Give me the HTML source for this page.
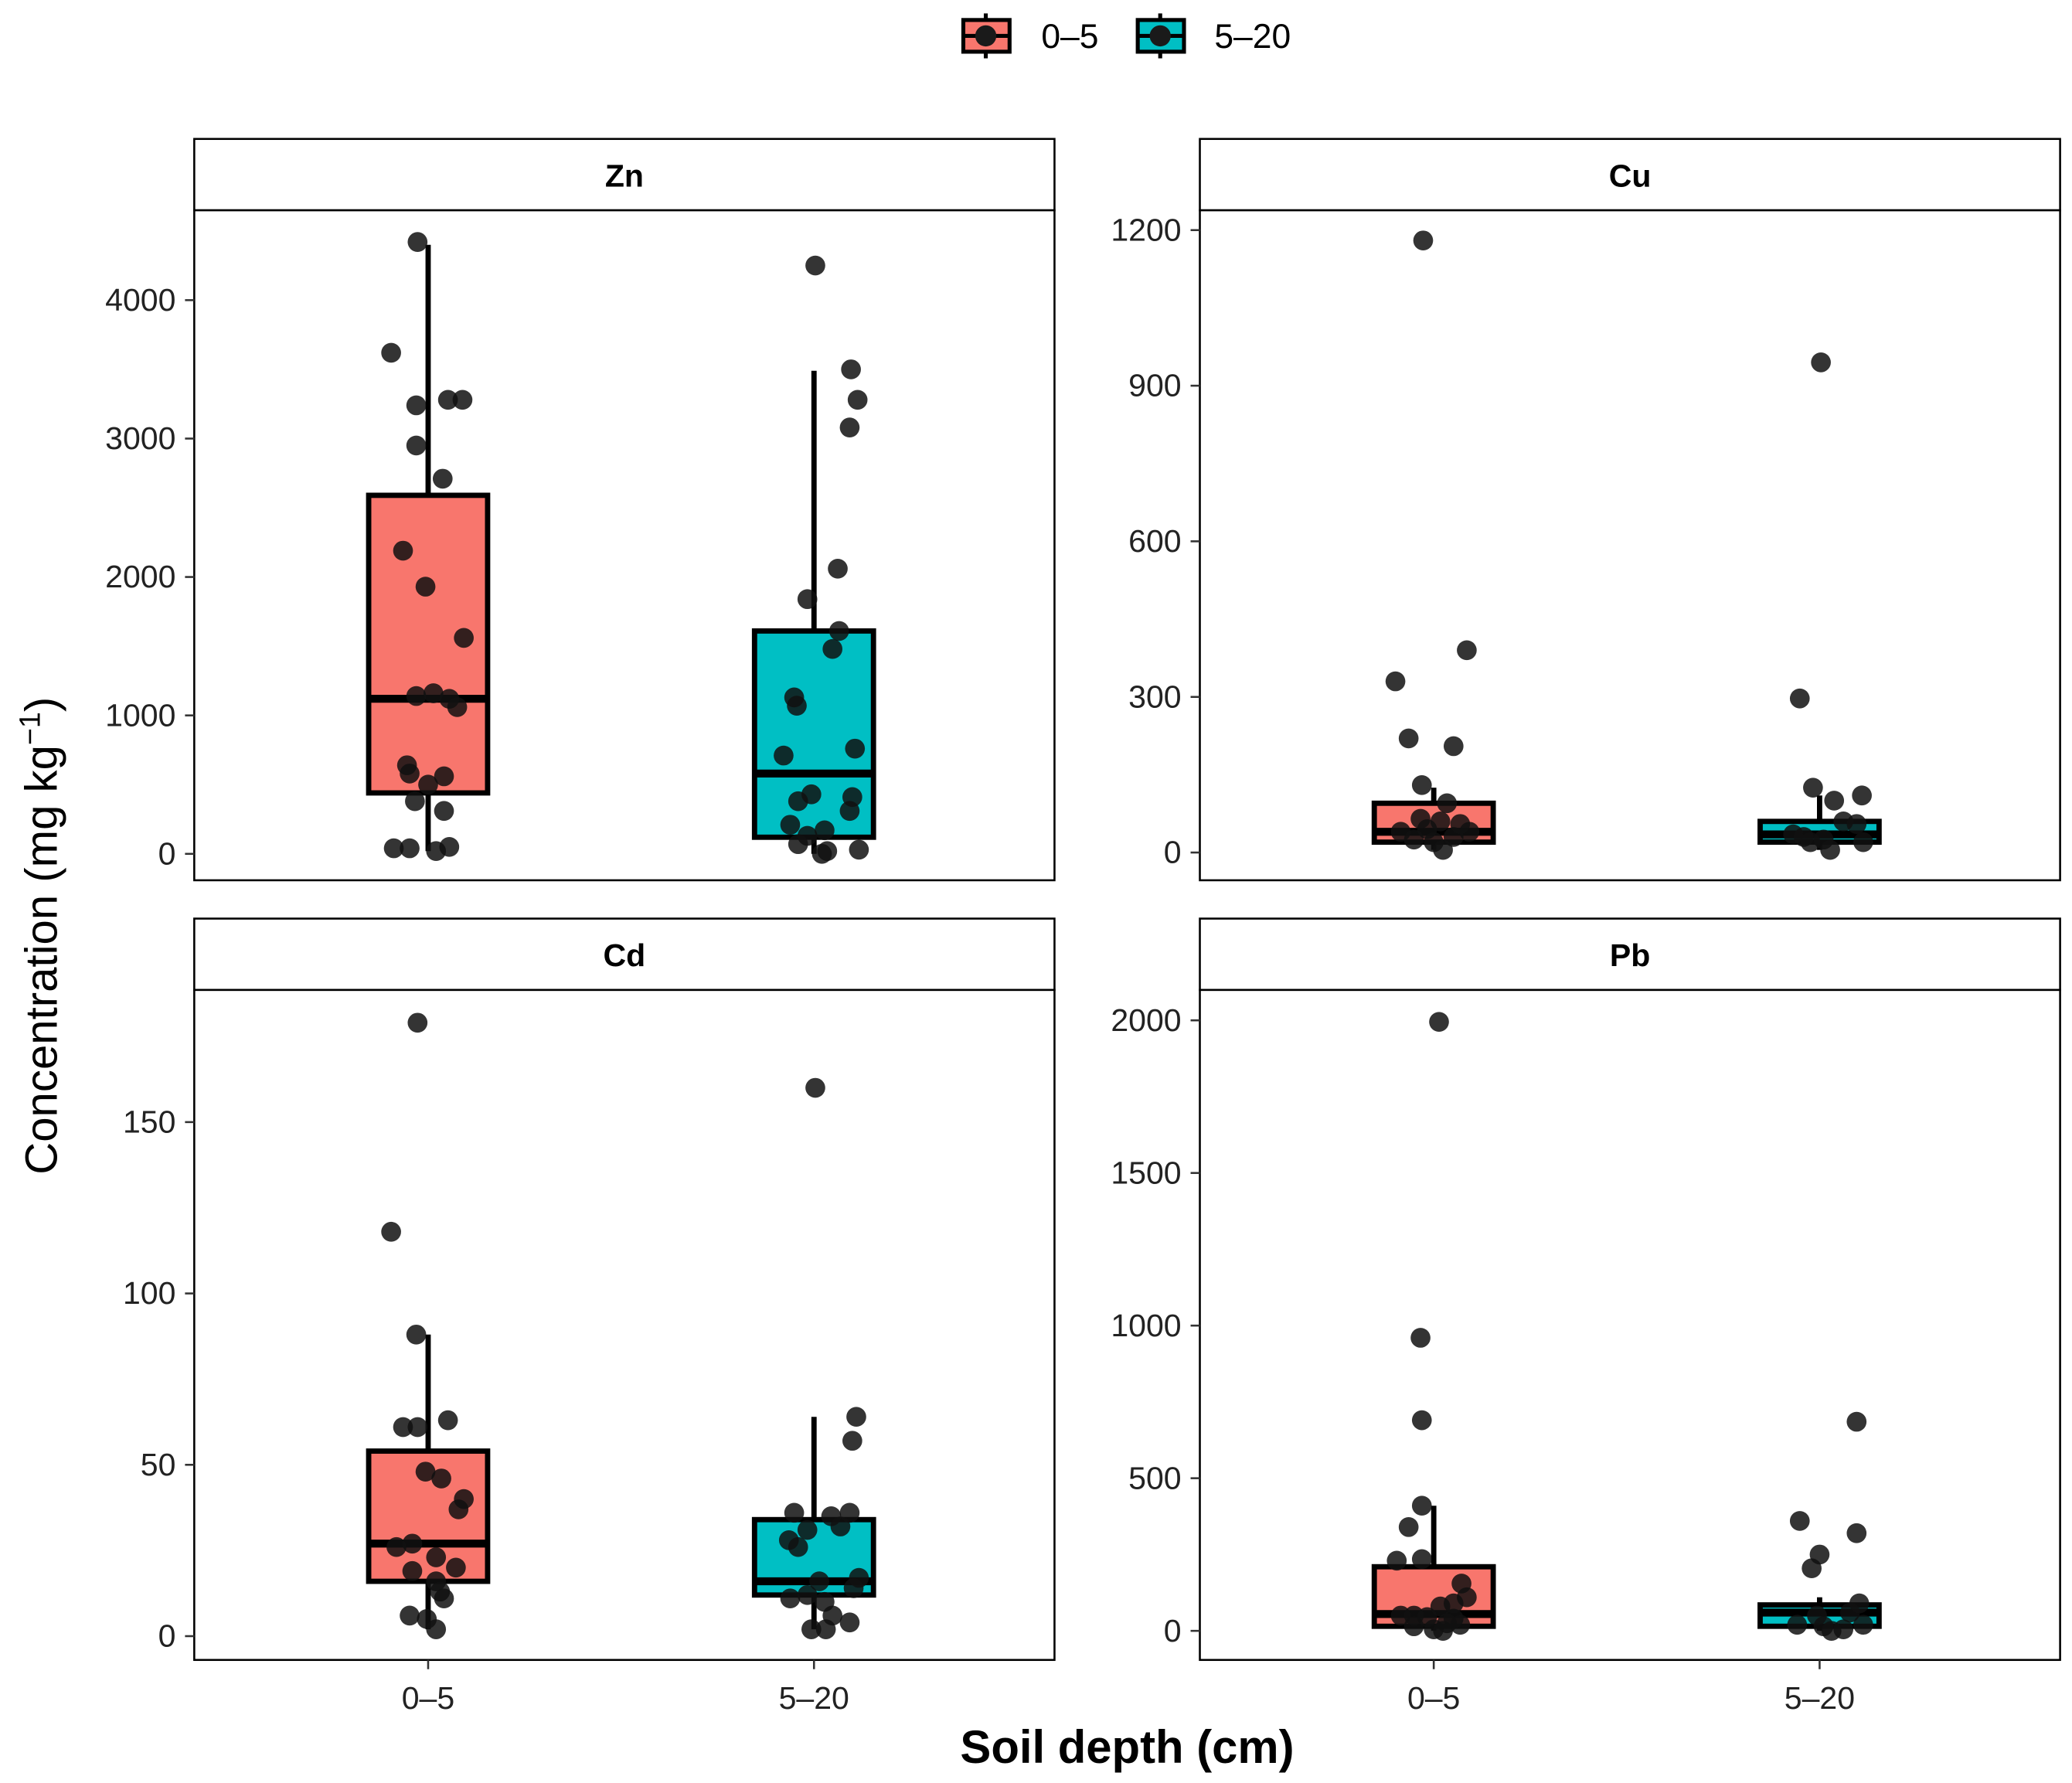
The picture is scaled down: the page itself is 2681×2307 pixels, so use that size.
<!DOCTYPE html>
<html><head><meta charset="utf-8"><style>
html,body{margin:0;padding:0;background:#fff}
svg{display:block;font-family:"Liberation Sans",Arial,sans-serif}
</style></head><body>
<svg id="chart" width="2681" height="2307" viewBox="0 0 1568 1349" xmlns="http://www.w3.org/2000/svg">
<g>
 <g>
  <line x1="746" y1="10" x2="746" y2="44" stroke="#000" stroke-width="3"/>
  <rect x="729" y="15" width="35" height="24" fill="#F8766D" stroke="#000" stroke-width="3"/>
  <line x1="729" y1="27" x2="764" y2="27" stroke="#000" stroke-width="3"/>
  <circle cx="746" cy="27" r="8" fill="#1a1a1a"/>
  <text x="788" y="36" font-size="26">0–5</text>
 </g>
 <g>
  <line x1="878" y1="10" x2="878" y2="44" stroke="#000" stroke-width="3"/>
  <rect x="861" y="15" width="35" height="24" fill="#00BFC4" stroke="#000" stroke-width="3"/>
  <line x1="861" y1="27" x2="896" y2="27" stroke="#000" stroke-width="3"/>
  <circle cx="878" cy="27" r="8" fill="#1a1a1a"/>
  <text x="919" y="36" font-size="26">5–20</text>
 </g>
</g>
<text transform="translate(43,708) rotate(-90)" text-anchor="middle" font-size="34">Concentration (mg kg<tspan dy="-13" font-size="22">−1</tspan><tspan dy="13">)</tspan></text>
<text x="853" y="1334" text-anchor="middle" font-size="35" font-weight="bold">Soil depth (cm)</text>
<g id="panels"></g>
</svg>
<script>
// ---- data ----
const categories = ["0–5","5–20"];
const metals = ["Zn","Cu","Cd","Pb"];
const yTicksZn = [0,1000,2000,3000,4000];
const yTicksCu = [0,300,600,900,1200];
const yTicksCd = [0,50,100,150];
const yTicksPb = [0,500,1000,1500,2000];
// box stats [lowerWhisker, q1, median, q3, upperWhisker] per category
const boxZn = [[20,440,1120,2590,4400],[0,120,580,1610,3490]];
const boxCu = [[5,20,40,95,125],[5,20,35,60,110]];
const boxCd = [[2,16,27,54,88],[2,12,16,34,64]];
const boxPb = [[0,15,55,210,410],[0,15,60,85,110]];
// points: values per category, with jitter offsets
const ptsZn0 = [4420,3620,3240,3280,3280,2950,2710,2190,1930,1560,1140,1160,1120,1060,640,580,500,560,380,310,40,40,20,50];
const jitZn0 = [-8,-28,-9,15,26,-9,11,-19,-2,27,-9,4,16,22,-16,-14,0,12,-10,12,-26,-14,6,16];
const ptsZn1 = [4250,3500,3280,3080,2060,1840,1610,1480,1130,1070,710,760,430,380,410,310,210,170,130,70,20,30,0];
const jitZn1 = [1,28,33,27,18,-5,19,14,-15,-13,-23,31,-2,-12,29,27,-18,8,-5,-12,10,34,6];
const ptsCu0 = [1180,330,390,220,205,130,95,40,65,60,55,25,20,30,5,40,45];
const jitCu0 = [-8,-29,25,-19,15,-9,10,-25,-10,5,20,-15,0,15,7,27,-5];
const ptsCu1 = [945,297,125,110,100,60,55,30,25,35,20,20,5];
const jitCu1 = [1,-15,-5,32,11,18,28,-12,3,-20,-7,33,8];
const ptsCd0 = [179,118,88,61,61,63,48,46,40,37,27,26,23,20,19,16,13,11,6,5,2];
const jitCd0 = [-8,-28,-9,-19,-8,15,-2,10,27,23,-12,-24,6,21,-12,6,9,12,-14,-1,6];
const ptsCd1 = [160,64,57,36,36,35,31,32,28,26,17,16,14,11,12,10,6,4,2,2];
const jitCd1 = [1,32,29,-15,27,13,-5,20,-19,-12,34,4,30,-18,-5,8,14,27,-2,9];
const ptsPb0 = [1995,960,690,410,340,230,235,155,90,110,80,50,50,45,40,25,15,5,0,20];
const jitPb0 = [4,-10,-9,-9,-19,-28,-9,21,15,25,5,-25,-15,-5,15,10,-15,0,7,20];
const ptsPb1 = [685,360,250,205,320,90,60,50,20,15,5,20,0];
const jitPb1 = [28,-15,0,-6,28,30,23,-2,-17,3,18,33,9];

const dataset = {
 Zn:{ticks:yTicksZn,box:boxZn,pts:[ptsZn0,ptsZn1],jit:[jitZn0,jitZn1],y0:646,yRef:4000,yRefPx:227},
 Cu:{ticks:yTicksCu,box:boxCu,pts:[ptsCu0,ptsCu1],jit:[jitCu0,jitCu1],y0:645,yRef:1200,yRefPx:174},
 Cd:{ticks:yTicksCd,box:boxCd,pts:[ptsCd0,ptsCd1],jit:[jitCd0,jitCd1],y0:1238,yRef:150,yRefPx:849},
 Pb:{ticks:yTicksPb,box:boxPb,pts:[ptsPb0,ptsPb1],jit:[jitPb0,jitPb1],y0:1234,yRef:2000,yRefPx:772}
};
const layout = {Zn:[147,105],Cu:[908,105],Cd:[147,695],Pb:[908,695]};
const NS="http://www.w3.org/2000/svg";
const root=document.getElementById("panels");
function mk(tag,attrs,parent){const e=document.createElementNS(NS,tag);for(const k in attrs)e.setAttribute(k,attrs[k]);parent.appendChild(e);return e;}
const colors=["#F8766D","#00BFC4"];
metals.forEach(m=>{
 const d=dataset[m];const [px,py]=layout[m];const W=651;
 const g=mk("g",{},root);
 
 
 const yS=v=>d.y0+(d.yRefPx-d.y0)*v/d.yRef;
 const xS=i=>px+177+i*292;
 const strip=mk("rect",{x:px,y:py,width:W,height:54,fill:"#fff",stroke:"#000","stroke-width":1.5},g);
 
 
 const st=mk("text",{x:px+W/2,y:py+36,"text-anchor":"middle","font-size":24,"font-weight":"bold"},g);
 st.textContent=m;
 
 
 const frame=mk("rect",{x:px,y:py+54,width:W,height:507,fill:"#fff",stroke:"#000","stroke-width":1.5},g);
 
 
 d.ticks.forEach(t=>{
  const y=yS(t);
  const tl=mk("line",{x1:px-7,x2:px,y1:y,y2:y,stroke:"#333","stroke-width":1.5},g);
  
  
  const tx=mk("text",{x:px-14,y:y+8,"text-anchor":"end","font-size":24,fill:"#222"},g);
  tx.textContent=t;
  
  
 });
 if(m==="Cd"||m==="Pb"){
  categories.forEach((c,i)=>{
   const x=xS(i);
   const tl=mk("line",{x1:x,x2:x,y1:py+561,y2:py+568,stroke:"#333","stroke-width":1.5},g);
   
   
   const tx=mk("text",{x:x,y:py+598,"text-anchor":"middle","font-size":24,fill:"#222"},g);
   tx.textContent=c;
   
   
  });
 }
 d.box.forEach((b,i)=>{
  const x=xS(i);
  const bg=mk("g",{},g);
  
  
  mk("line",{x1:x,x2:x,y1:yS(b[0]),y2:yS(b[1]),stroke:"#000","stroke-width":4},bg);
  mk("line",{x1:x,x2:x,y1:yS(b[3]),y2:yS(b[4]),stroke:"#000","stroke-width":4},bg);
  mk("rect",{x:x-45,y:yS(b[3]),width:90,height:yS(b[1])-yS(b[3]),fill:colors[i],stroke:"#000","stroke-width":4},bg);
  mk("line",{x1:x-45,x2:x+45,y1:yS(b[2]),y2:yS(b[2]),stroke:"#000","stroke-width":6},bg);
 });
 d.pts.forEach((arr,i)=>{
  arr.forEach((v,k)=>{
   const c=mk("circle",{cx:xS(i)+d.jit[i][k],cy:yS(v),r:7.5,fill:"#111","fill-opacity":0.85},g);
   
   
  });
 });
});
</script>
</body></html>
